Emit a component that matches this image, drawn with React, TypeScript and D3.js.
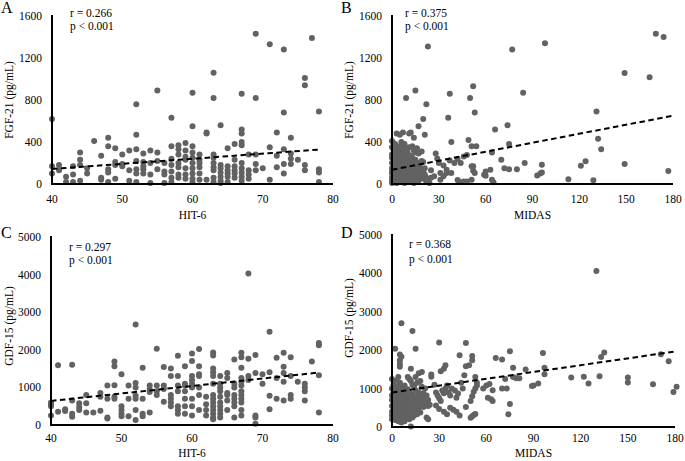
import React from "react";
import * as d3 from "d3";

// ---------- DATA ----------
// Panel A: HIT-6 vs FGF-21 (grouped by HIT-6 score)
const hit6FgfA: [number, number[]][] = [
  [40, [620, 170, 100]], [41, [180, 130]], [42, [70, 20]], [43, [170, 90, 20]],
  [44, [300, 230, 180, 30]], [45, [150, 100]], [46, [410]], [47, [270, 60, 40]],
  [48, [440, 360, 140, 110, 20]], [49, [340, 210, 180, 50]], [50, [280, 190, 170]],
  [51, [320, 130, 30]], [52, [760, 470, 330, 220, 140, 100, 20]], [53, [290, 210, 170, 140, 100]],
  [54, [320, 200, 90, 10]], [55, [890, 300, 220, 140]], [56, [200, 120, 90, 10]],
  [57, [630, 360, 240, 180, 120, 60, 20]], [58, [370, 330, 280, 200, 160, 90, 60]],
  [59, [390, 320, 260, 230, 150, 90, 50]], [60, [870, 550, 360, 300, 250, 200, 150, 100, 50, 20]],
  [61, [280, 230, 200, 160, 100, 40]], [62, [490, 480, 40]],
  [63, [1060, 820, 280, 250, 200, 160, 130, 60, 20]], [64, [560, 180, 150, 110, 70, 30, 10]],
  [65, [340, 170, 130, 100, 70, 20]], [66, [380, 230, 170, 130, 100, 60]],
  [67, [860, 520, 480, 400, 370, 200, 150, 110, 70, 30]], [68, [280, 130, 90, 50]],
  [69, [1430, 820, 280, 190, 130]], [70, [150]], [71, [1330, 350, 40]], [72, [490, 270, 160]],
  [73, [1280, 680, 330, 190, 100]], [74, [440, 290, 240, 190]], [75, [230]],
  [76, [1010, 940, 180, 130]], [77, [1390]], [78, [690, 140, 110, 20]],
];
// Panel B: MIDAS vs FGF-21
const midasFgfB: [number, number[]][] = [
  [0, [410, 350, 280, 250, 200, 150, 120, 100, 60, 30, 10]], [1, [390, 330, 260, 180, 130, 80, 40, 20]],
  [2, [380, 300, 220, 160, 110, 60, 20]], [3, [480, 340, 270, 200, 140, 90, 50, 10]],
  [4, [320, 240, 170, 120, 70, 30]], [5, [470, 360, 290, 210, 150, 100, 40]],
  [6, [400, 310, 230, 180, 110, 60, 20]], [7, [490, 350, 250, 140, 90, 30]],
  [8, [380, 280, 200, 130, 70, 10]], [9, [820, 330, 260, 170, 110, 50]],
  [10, [300, 220, 150, 80, 20]], [11, [480, 350, 240, 180, 120, 60]],
  [12, [490, 270, 200, 140, 90, 30]], [13, [360, 250, 160, 100, 40]],
  [14, [440, 320, 210, 130, 70, 10]], [15, [890, 300, 230, 150, 90]],
  [16, [340, 180, 120, 50]], [17, [550, 290, 200, 110, 30]], [18, [160, 100, 60]],
  [19, [310, 220, 140, 80]], [20, [620, 210, 120, 50]], [21, [470, 150, 90]],
  [22, [760, 60, 20]], [23, [1310, 40]], [24, [10]], [25, [130, 60]], [27, [73]],
  [28, [290]], [29, [244]], [30, [200]], [31, [105, 41]], [33, [177, 73]], [35, [136, 105]],
  [36, [630]], [37, [860, 225]], [38, [400, 105]], [40, [200]], [42, [238, 38]], [43, [25]],
  [44, [200]], [46, [263, 25]], [48, [276, 25]], [49, [420]], [50, [820]], [51, [360, 168, 41]],
  [52, [930, 168, 127]], [53, [680, 105]], [54, [360]], [59, [89]], [60, [120, 79]], [63, [136]],
  [64, [300, 41]], [65, [16]], [66, [520]], [70, [230]], [72, [150]], [74, [560]], [75, [380, 140]],
  [77, [1280]], [80, [140]], [84, [870]], [85, [200]], [93, [80]], [95, [100]], [96, [110, 184]],
  [98, [1340]], [113, [45]], [121, [175]], [124, [216]], [129, [35]], [131, [690]], [132, [430]],
  [134, [330]], [149, [1057, 190]], [165, [1016]], [169, [1431]], [174, [1400]], [177, [124]],
];
// Panel C: HIT-6 vs GDF-15
const hit6GdfC: [number, number[]][] = [
  [40, [600, 550, 500, 250]], [41, [1590, 350]], [42, [420, 370]], [43, [1600, 650, 300, 220]],
  [44, [580, 480, 400]], [45, [800, 580, 330]], [46, [330]], [47, [850, 750, 380]],
  [48, [1050, 700, 200, 170]], [49, [1690, 1560, 1060, 750, 700]], [50, [1350, 500, 400, 300, 230]],
  [51, [1050, 700, 230]], [52, [2670, 1120, 1000, 780, 700, 400, 130]], [53, [1520, 700, 300, 230]],
  [54, [1050, 950, 880, 330]], [55, [2030, 1050, 900, 800]], [56, [1540, 1050, 960, 620]],
  [57, [1500, 1300, 800, 700, 600, 500]], [58, [1840, 1300, 1050, 900, 500, 400, 300]],
  [59, [1560, 1100, 1050, 900, 700, 500, 300]], [60, [1900, 1700, 1300, 1200, 1100, 1000, 700, 500, 250]],
  [61, [2020, 1560, 1350, 1300, 1000, 800, 400]], [62, [750, 550, 400, 250]],
  [63, [1930, 1850, 1500, 1400, 1300, 1100, 800, 700, 600, 500, 400, 300, 200, 150]],
  [64, [1300, 1100, 1000, 900, 750, 600, 500, 400, 300, 200]], [65, [1380, 1250, 850, 800, 650, 400]],
  [66, [1740, 1100, 1000, 800, 700, 600, 500, 200]],
  [67, [1920, 1800, 1520, 1250, 1150, 1050, 900, 800, 700, 600, 400, 250]],
  [68, [4030, 1760, 1300, 1200]], [69, [1860, 1380, 250, 200, 30]], [70, [1350, 1100]],
  [71, [2480, 1400, 780, 420]], [72, [1790, 1250, 700]], [73, [1920, 1550, 1380, 1150, 650]],
  [74, [1800, 1300, 800, 700]], [75, [1150]], [76, [1100, 1000, 900, 650]], [77, [1690]],
  [78, [2180, 2120, 1320, 330]],
];
// Panel D: MIDAS vs GDF-15
const midasGdfD: [number, number[]][] = [
  [0, [1250, 1000, 820, 700, 550, 400, 300, 200]], [1, [1100, 900, 750, 600, 450, 350, 250]],
  [2, [2040, 1200, 950, 800, 650, 500, 380, 280, 180]], [3, [1050, 870, 700, 560, 430, 320, 220]],
  [4, [1300, 980, 760, 620, 480, 350, 250, 150]], [5, [1890, 1740, 1640, 1570, 1150, 900, 780, 640, 520, 400, 300, 180]],
  [6, [2700, 1830, 1020, 850, 700, 580, 450, 330, 220, 120]], [7, [960, 800, 680, 540, 420, 300, 200]],
  [8, [1080, 900, 760, 620, 500, 380, 260, 150]], [9, [850, 720, 600, 470, 350, 230]],
  [10, [1300, 980, 800, 650, 520, 400, 280]], [11, [1250, 900, 700, 560, 440, 320, 200]],
  [12, [1520, 1200, 760, 600, 480, 350, 10]], [13, [2500, 1100, 850, 680, 520, 380, 250]],
  [14, [1050, 720, 580, 430, 300]], [15, [2040, 1300, 950, 760, 600, 420]],
  [16, [1150, 800, 640, 480, 330]], [17, [1400, 900, 700, 500]], [18, [1200, 760, 560, 380]],
  [19, [1430, 1050, 620]], [20, [880, 700, 520]], [21, [1000, 760, 560]], [22, [820, 620, 250]],
  [23, [700, 550, 200]], [24, [580]], [25, [1370, 1310]], [27, [1100]], [28, [900, 560]],
  [29, [820]], [30, [2200, 750, 470]], [31, [1455, 680]], [32, [950]], [33, [1520, 880, 400]],
  [34, [1610, 1000]], [35, [1080, 330]], [36, [900]], [37, [820, 500]], [38, [1000]], [39, [450]],
  [40, [950]], [41, [760, 400]], [42, [870]], [43, [1870, 300]], [44, [1150]], [45, [1000]],
  [46, [1350]], [47, [2190, 1580, 520]], [49, [1610]], [50, [680, 240]], [51, [1850, 1740, 800, 280]],
  [52, [920, 310]], [53, [1300, 1000, 340]], [54, [1150, 1080]], [58, [1000]], [60, [1080]],
  [61, [760]], [62, [1120]], [63, [720]], [64, [960, 680]], [66, [1800]], [70, [1760, 1000]],
  [72, [1250]], [73, [1000]], [74, [330]], [75, [1970, 600]], [77, [1540, 1300]], [79, [1270]],
  [81, [1270]], [85, [1500]], [89, [1070]], [90, [1080]], [93, [1130]], [96, [1930]], [97, [1540, 1376]],
  [114, [1290]], [122, [1306]], [125, [1134]], [130, [4060]], [132, [1324]], [133, [1826]],
  [135, [1939]], [150, [1289, 1159]], [166, [1116]], [171, [1896]], [176, [1714]], [179, [912]],
  [181, [1047]],
];

// Trend lines: [x1, y1, x2, y2]
const trendA = [40, 143, 78, 328];
const trendB = [0, 136, 180, 650];
const trendC = [40, 640, 78, 1395];
const trendD = [0, 900, 180, 1965];

// Ticks
const hitTicks = [40, 50, 60, 70, 80];
const midasTicks = [0, 30, 60, 90, 120, 150, 180];
const fgfTicks = [0, 400, 800, 1200, 1600];
const gdfTicks = [0, 1000, 2000, 3000, 4000, 5000];

const FONT = "'Liberation Serif', 'Times New Roman', serif";

type Cfg = {
  letter: string; letterX: number; letterY: number;
  data: [number, number[]][];
  xDomain: [number, number]; yDomain: [number, number];
  xTicks: number[]; yTicks: number[];
  left: number; right: number; top: number; bottom: number;
  trend: number[];
  xTitle: string; yTitle: string;
  xTitleY: number; xTickY: number; yTitleX: number; yTitleY: number;
  rText: string; statX: number; rY: number; pY: number;
};

function Panel({ c }: { c: Cfg }) {
  const x = d3.scaleLinear().domain(c.xDomain).range([c.left, c.right]);
  const y = d3.scaleLinear().domain(c.yDomain).range([c.bottom, c.top]);
  const pts = c.data.flatMap(([xv, ys]) => ys.map((yv) => [xv, yv]));
  const line = d3.line<number[]>().x((d) => x(d[0])).y((d) => y(d[1]));
  const tr = [[c.trend[0], c.trend[1]], [c.trend[2], c.trend[3]]];
  return (
    <g fontFamily={FONT} fill="#000">
      <text x={c.letterX} y={c.letterY} fontSize={16}>{c.letter}</text>
      {pts.map((p, i) => (
        <circle key={i} cx={x(p[0])} cy={y(p[1])} r={3} fill="#626262" />
      ))}
      <line x1={c.left} x2={c.left} y1={y(c.yDomain[1]) - 1} y2={c.bottom + 1} stroke="#000" strokeWidth={2} />
      <line x1={c.left - 1} x2={c.right} y1={c.bottom} y2={c.bottom} stroke="#000" strokeWidth={2} />
      <path d={line(tr) || ""} fill="none" stroke="#000" strokeWidth={2} strokeDasharray="5.5,3.5" />
      {c.yTicks.map((t) => (
        <text key={t} x={c.left - 10} y={y(t)} fontSize={11.5} textAnchor="end" dominantBaseline="central">{t}</text>
      ))}
      {c.xTicks.map((t) => (
        <text key={t} x={x(t)} y={c.xTickY} fontSize={11.5} textAnchor="middle">{t}</text>
      ))}
      <text x={(c.left + c.right) / 2} y={c.xTitleY} fontSize={11.5} textAnchor="middle">{c.xTitle}</text>
      <text transform={`translate(${c.yTitleX},${c.yTitleY}) rotate(-90)`} fontSize={11.5} textAnchor="middle" dominantBaseline="central">{c.yTitle}</text>
      <text x={c.statX} y={c.rY} fontSize={11.5}>{c.rText}</text>
      <text x={c.statX} y={c.pY} fontSize={11.5}>p &lt; 0.001</text>
    </g>
  );
}

const panels: Cfg[] = [
  {
    letter: "A", letterX: 1, letterY: 13, data: hit6FgfA, xDomain: [40, 80], yDomain: [0, 1600],
    xTicks: hitTicks, yTicks: fgfTicks, left: 52, right: 333, top: 16, bottom: 184, trend: trendA,
    xTitle: "HIT-6", yTitle: "FGF-21 (pg/mL)", xTitleY: 219, xTickY: 203, yTitleX: 8.5, yTitleY: 100,
    rText: "r = 0.266", statX: 70, rY: 16.5, pY: 29.5,
  },
  {
    letter: "B", letterX: 341, letterY: 13, data: midasFgfB, xDomain: [0, 180], yDomain: [0, 1600],
    xTicks: midasTicks, yTicks: fgfTicks, left: 392, right: 673, top: 16, bottom: 184, trend: trendB,
    xTitle: "MIDAS", yTitle: "FGF-21 (pg/mL)", xTitleY: 219, xTickY: 203, yTitleX: 348.5, yTitleY: 100,
    rText: "r = 0.375", statX: 405, rY: 16.5, pY: 29.5,
  },
  {
    letter: "C", letterX: 1, letterY: 238, data: hit6GdfC, xDomain: [40, 80], yDomain: [0, 5000],
    xTicks: hitTicks, yTicks: gdfTicks, left: 51, right: 333, top: 237, bottom: 425, trend: trendC,
    xTitle: "HIT-6", yTitle: "GDF-15 (pg/mL)", xTitleY: 457, xTickY: 442, yTitleX: 8.5, yTitleY: 326,
    rText: "r = 0.297", statX: 69, rY: 250.5, pY: 264,
  },
  {
    letter: "D", letterX: 341, letterY: 238, data: midasGdfD, xDomain: [0, 180], yDomain: [0, 5000],
    xTicks: midasTicks, yTicks: gdfTicks, left: 392, right: 675, top: 235, bottom: 427, trend: trendD,
    xTitle: "MIDAS", yTitle: "GDF-15 (pg/mL)", xTitleY: 457, xTickY: 442, yTitleX: 348.5, yTitleY: 318,
    rText: "r = 0.368", statX: 409, rY: 248, pY: 263,
  },
];

export default function App() {
  return (
    <svg width={685} height={461} style={{ position: "absolute", left: 0, top: 0, background: "#fff" }}>
      <rect width={685} height={461} fill="#fff" />
      {panels.map((c) => <Panel key={c.letter} c={c} />)}
    </svg>
  );
}
